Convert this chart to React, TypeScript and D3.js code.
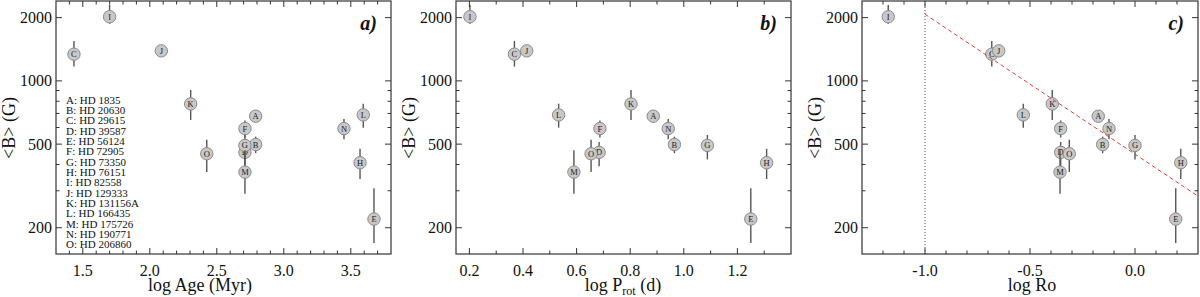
import React from "react";
import * as d3 from "d3";

// star ids and names (legend in panel a)
const stars = ["A", "B", "C", "D", "E", "F", "G", "H", "I", "J", "K", "L", "M", "N", "O"];
const hdNames = [
  "HD 1835", "HD 20630", "HD 29615", "HD 39587", "HD 56124", "HD 72905", "HD 73350", "HD 76151",
  "HD 82558", "HD 129333", "HD 131156A", "HD 166435", "HD 175726", "HD 190771", "HD 206860",
];

// <B> in Gauss, with upper / lower error
const bMean = [679, 498, 1340, 457, 220, 593, 493, 408, 2020, 1390, 777, 689, 368, 593, 450];
const bErrHi = [20, 45, 210, 55, 88, 55, 60, 67, 280, 40, 128, 90, 100, 65, 75];
const bErrLo = [20, 45, 170, 65, 51, 55, 70, 67, 150, 40, 125, 90, 78, 65, 82];

// x quantities for the three panels
const logAge = [2.79, 2.79, 1.434, 2.71, 3.673, 2.71, 2.71, 3.569, 1.7, 2.086, 2.305, 3.593, 2.71, 3.449, 2.425];
const logProt = [0.886, 0.965, 0.368, 0.684, 1.25, 0.687, 1.088, 1.309, 0.202, 0.414, 0.803, 0.533, 0.59, 0.942, 0.654];
const logRo = [-0.175, -0.154, -0.682, -0.354, 0.194, -0.354, 0.0, 0.218, -1.175, -0.649, -0.394, -0.532, -0.357, -0.124, -0.313];

// y axis ticks
const yTickLabels = [200, 500, 1000, 2000];
const yMinorTicks = [300, 400, 600, 700, 800, 900];

// power-law fit in panel c: B = fitB0 * Ro^fitSlope, drawn from log Ro = -1
const fitB0 = 448;
const fitSlope = -0.666;
const fitStart = -1.0;

const serif = "Liberation Serif";
const top = 1;
const bottom = 254;

const yScale = d3.scaleLog().domain([150, 2400]).range([bottom, top]);

type Panel = {
  key: string;
  left: number;
  right: number;
  domain: [number, number];
  xs: number[];
  majorStep: number;
  minorStep: number;
  tag: string;
  titleX: number;
};

const panels: Panel[] = [
  { key: "a", left: 56, right: 391, domain: [1.3, 3.8], xs: logAge, majorStep: 0.5, minorStep: 0.1, tag: "a)", titleX: 200 },
  { key: "b", left: 456, right: 791, domain: [0.15, 1.4], xs: logProt, majorStep: 0.2, minorStep: 0.1, tag: "b)", titleX: 623 },
  { key: "c", left: 862, right: 1198, domain: [-1.3, 0.3], xs: logRo, majorStep: 0.5, minorStep: 0.1, tag: "c)", titleX: 1032 },
];

const fmt = (v: number) => d3.format(".1f")(v).replace("−", "-");

const ticksFor = (lo: number, hi: number, step: number) => {
  const out: number[] = [];
  for (let k = Math.ceil(lo / step - 1e-6); k * step <= hi + 1e-6; k++) out.push(+(k * step).toFixed(4));
  return out;
};

const PanelView = ({ p }: { p: Panel }) => {
  const x = d3.scaleLinear().domain(p.domain).range([p.left, p.right]);
  const major = ticksFor(p.domain[0], p.domain[1], p.majorStep).filter((v) => x(v) > p.left + 1 && x(v) < p.right - 1);
  const minor = ticksFor(p.domain[0], p.domain[1], p.minorStep).filter(
    (v) => !major.some((m) => Math.abs(m - v) < 1e-6) && x(v) > p.left + 1 && x(v) < p.right - 1
  );
  const axisColor = "#333";
  const fitLine = d3
    .line<number>()
    .x((v) => x(v))
    .y((v) => yScale(fitB0 * Math.pow(10, fitSlope * v)));

  return (
    <g>
      {/* reference line at log Ro = -1 */}
      {p.key === "c" && (
        <line x1={x(fitStart)} x2={x(fitStart)} y1={top} y2={bottom} stroke="#222" strokeWidth={0.8} strokeDasharray="1,2" />
      )}
      {/* data points: bar, circle, letter */}
      {stars.map((s, i) => {
        const cx = x(p.xs[i]);
        const cy = yScale(bMean[i]);
        return (
          <g key={s}>
            <line x1={cx} x2={cx} y1={Math.max(top, yScale(bMean[i] + bErrHi[i]))} y2={yScale(bMean[i] - bErrLo[i])} stroke="#555" strokeWidth={1.4} />
            <circle cx={cx} cy={cy} r={6.2} fill="#c8c8c8" stroke="#8a8a8a" strokeWidth={1} />
            <text x={cx} y={cy + 3} textAnchor="middle" fontFamily={serif} fontSize={8.5} fill="#222">
              {s}
            </text>
          </g>
        );
      })}
      {p.key === "c" && (
        <path d={fitLine([fitStart, p.domain[1]]) ?? ""} fill="none" stroke="#e83a3a" strokeWidth={1} strokeDasharray="4,3" />
      )}
      {/* frame */}
      <rect x={p.left} y={top} width={p.right - p.left} height={bottom - top} fill="none" stroke={axisColor} strokeWidth={1.2} />
      {/* x ticks bottom and top */}
      {major.map((v) => (
        <g key={"M" + v}>
          <line x1={x(v)} x2={x(v)} y1={bottom} y2={bottom - 6} stroke={axisColor} />
          <line x1={x(v)} x2={x(v)} y1={top} y2={top + 6} stroke={axisColor} />
          <text x={x(v)} y={276} textAnchor="middle" fontFamily={serif} fontSize={16} fill="#111">
            {fmt(v)}
          </text>
        </g>
      ))}
      {minor.map((v) => (
        <g key={"m" + v}>
          <line x1={x(v)} x2={x(v)} y1={bottom} y2={bottom - 3.5} stroke={axisColor} />
          <line x1={x(v)} x2={x(v)} y1={top} y2={top + 3.5} stroke={axisColor} />
        </g>
      ))}
      {/* y ticks left and right */}
      {yTickLabels.map((v) => (
        <g key={"y" + v}>
          <line x1={p.left} x2={p.left + 6} y1={yScale(v)} y2={yScale(v)} stroke={axisColor} />
          <line x1={p.right} x2={p.right - 6} y1={yScale(v)} y2={yScale(v)} stroke={axisColor} />
          <text x={p.left - 4} y={yScale(v) + 5.5} textAnchor="end" fontFamily={serif} fontSize={16} fill="#111">
            {v}
          </text>
        </g>
      ))}
      {yMinorTicks.map((v) => (
        <g key={"ym" + v}>
          <line x1={p.left} x2={p.left + 3.5} y1={yScale(v)} y2={yScale(v)} stroke={axisColor} />
          <line x1={p.right} x2={p.right - 3.5} y1={yScale(v)} y2={yScale(v)} stroke={axisColor} />
        </g>
      ))}
      {/* y title */}
      <text transform={`translate(${p.left - 41},128) rotate(-90)`} textAnchor="middle" fontFamily={serif} fontSize={18} fill="#111">
        {"<B> (G)"}
      </text>
      {/* x title */}
      <text x={p.titleX} y={291} textAnchor="middle" fontFamily={serif} fontSize={18} fill="#111">
        {p.key === "a" && "log Age (Myr)"}
        {p.key === "b" && (
          <>
            log P<tspan fontSize={12} dy={4}>rot</tspan>
            <tspan dy={-4}> (d)</tspan>
          </>
        )}
        {p.key === "c" && "log Ro"}
      </text>
      {/* panel tag */}
      <text x={p.right - 14} y={30} textAnchor="end" fontFamily={serif} fontSize={20} fontWeight="bold" fontStyle="italic" fill="#111">
        {p.tag}
      </text>
      {/* legend of star names */}
      {p.key === "a" &&
        stars.map((s, i) => (
          <text key={"lg" + s} x={66} y={103.5 + i * 10.35} fontFamily={serif} fontSize={11} fill="#111">
            {s}: {hdNames[i]}
          </text>
        ))}
    </g>
  );
};

export default function App() {
  return (
    <svg width={1200} height={297} style={{ position: "absolute", left: 0, top: 0, background: "#fff" }}>
      {panels.map((p) => (
        <PanelView key={p.key} p={p} />
      ))}
    </svg>
  );
}
